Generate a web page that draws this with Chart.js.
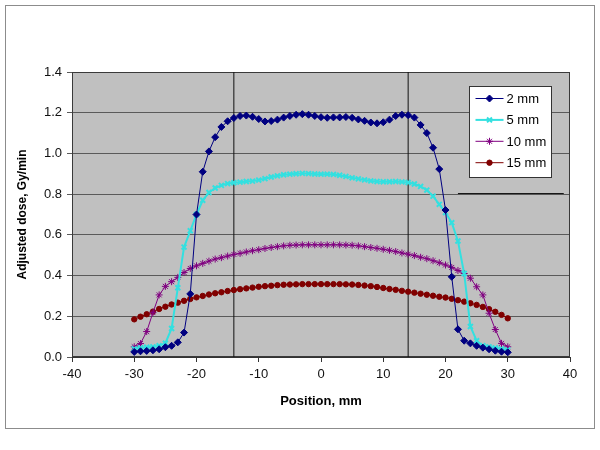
<!DOCTYPE html>
<html>
<head>
<meta charset="utf-8">
<title>Adjusted dose profiles</title>
<script src="https://cdn.jsdelivr.net/npm/chart.js@4.4.1/dist/chart.umd.min.js"></script>
<style>
  html, body { margin: 0; padding: 0; background: #fff; }
  #frame { position: absolute; left: 5px; top: 5px; width: 588px; height: 422px; border: 1px solid #8c8c8c; }
  canvas { display: block; }
</style>
</head>
<body>
<div id="frame"><canvas id="doseChart" width="588" height="422"></canvas></div>
<script>
// --- Datos ---
const positions = [-30, -29, -28, -27, -26, -25, -24, -23, -22, -21, -20, -19, -18, -17, -16, -15, -14, -13, -12, -11,
  -10, -9, -8, -7, -6, -5, -4, -3, -2, -1, 0, 1, 2, 3, 4, 5, 6, 7, 8, 9,
  10, 11, 12, 13, 14, 15, 16, 17, 18, 19, 20, 21, 22, 23, 24, 25, 26, 27, 28, 29, 30];

const dose2mm = [0.025, 0.028, 0.030, 0.033, 0.038, 0.048, 0.055, 0.072, 0.120, 0.310,
  0.700, 0.910, 1.010, 1.080, 1.130, 1.158, 1.174, 1.184, 1.186, 1.180,
  1.169, 1.157, 1.159, 1.166, 1.176, 1.184, 1.190, 1.193, 1.190, 1.184,
  1.178, 1.175, 1.177, 1.177, 1.179, 1.175, 1.167, 1.160, 1.152, 1.148,
  1.153, 1.166, 1.184, 1.190, 1.188, 1.176, 1.140, 1.100, 1.028, 0.923,
  0.722, 0.394, 0.136, 0.080, 0.067, 0.055, 0.046, 0.038, 0.031, 0.026, 0.023];

const dose5mm = [0.040, 0.045, 0.048, 0.050, 0.055, 0.068, 0.140, 0.340, 0.540, 0.620,
  0.700, 0.770, 0.808, 0.830, 0.843, 0.852, 0.856, 0.859, 0.862, 0.864,
  0.869, 0.876, 0.884, 0.890, 0.895, 0.898, 0.900, 0.902, 0.901, 0.899,
  0.898, 0.898, 0.897, 0.893, 0.887, 0.880, 0.875, 0.870, 0.865, 0.862,
  0.861, 0.861, 0.862, 0.860, 0.857, 0.850, 0.838, 0.820, 0.790, 0.750,
  0.710, 0.660, 0.570, 0.410, 0.150, 0.080, 0.055, 0.050, 0.045, 0.040, 0.035];

const dose10mm = [0.050, 0.066, 0.125, 0.218, 0.305, 0.347, 0.370, 0.391, 0.415, 0.435,
  0.448, 0.460, 0.471, 0.481, 0.488, 0.496, 0.504, 0.509, 0.516, 0.522,
  0.527, 0.533, 0.538, 0.542, 0.546, 0.549, 0.550, 0.551, 0.551, 0.551,
  0.551, 0.551, 0.551, 0.551, 0.550, 0.549, 0.546, 0.542, 0.538, 0.534,
  0.529, 0.524, 0.518, 0.511, 0.505, 0.498, 0.490, 0.483, 0.473, 0.463,
  0.452, 0.440, 0.425, 0.410, 0.387, 0.345, 0.305, 0.215, 0.135, 0.067, 0.050];

const dose15mm = [0.185, 0.198, 0.210, 0.223, 0.236, 0.247, 0.258, 0.267, 0.276, 0.285,
  0.293, 0.300, 0.307, 0.313, 0.318, 0.324, 0.329, 0.333, 0.337, 0.341,
  0.345, 0.348, 0.350, 0.353, 0.355, 0.356, 0.357, 0.358, 0.358, 0.358,
  0.358, 0.358, 0.358, 0.358, 0.357, 0.356, 0.354, 0.351, 0.348, 0.344,
  0.339, 0.334, 0.330, 0.325, 0.321, 0.316, 0.311, 0.306, 0.301, 0.296,
  0.292, 0.286, 0.279, 0.272, 0.264, 0.256, 0.246, 0.235, 0.222, 0.207, 0.190];

const seriesLabels = ['2 mm', '5 mm', '10 mm', '15 mm'];
const edgeLines = [-14, 14];          // lineas verticales negras
const strayMarkX = [22, 39];          // trazo negro suelto cerca de 0.8
const strayMarkY = [0.803, 0.803];

const toPoints = (ys) => positions.map((x, i) => ({ x: x, y: ys[i] }));

// --- Plugins ---
const plotFrame = {
  id: 'plotFrame',
  beforeDraw(chart) {
    const { ctx, chartArea: a } = chart;
    ctx.save();
    ctx.fillStyle = '#c0c0c0';
    ctx.fillRect(a.left, a.top, a.right - a.left, a.bottom - a.top);
    ctx.restore();
  },
  beforeDatasetsDraw(chart) {
    const { ctx, chartArea: a } = chart;
    ctx.save();
    ctx.strokeStyle = '#3a3a3a';
    ctx.lineWidth = 1;
    ctx.strokeRect(a.left + 0.5, a.top + 0.5, a.right - a.left - 1, a.bottom - a.top - 1);
    ctx.restore();
  }
};

const boxLegend = {
  id: 'boxLegend',
  afterDraw(chart) {
    const { ctx, chartArea: a } = chart;
    const x0 = Math.round(a.right - 101) + 0.5;
    const y0 = Math.round(a.top + 14) + 0.5;
    ctx.save();
    ctx.fillStyle = '#fff';
    ctx.fillRect(x0, y0, 82, 91);
    ctx.strokeStyle = '#333';
    ctx.lineWidth = 1;
    ctx.strokeRect(x0, y0, 82, 91);
    seriesLabels.forEach((label, i) => {
      const ds = chart.data.datasets[i];
      const y = y0 + 12 + i * 21.4;
      ctx.strokeStyle = ds.borderColor;
      ctx.lineWidth = ds.borderWidth;
      ctx.beginPath();
      ctx.moveTo(x0 + 6, y);
      ctx.lineTo(x0 + 34, y);
      ctx.stroke();
      ctx.fillStyle = ds.pointBackgroundColor;
      ctx.strokeStyle = ds.pointBorderColor;
      ctx.lineWidth = ds.pointBorderWidth || 1;
      Chart.helpers.drawPoint(ctx, {
        pointStyle: ds.pointStyle,
        radius: ds.pointRadius,
        rotation: 0,
        borderWidth: ds.pointBorderWidth || 1
      }, x0 + 20, y);
      ctx.fillStyle = '#000';
      ctx.font = '13px "Liberation Sans", Arial, sans-serif';
      ctx.textAlign = 'left';
      ctx.textBaseline = 'middle';
      ctx.fillText(label, x0 + 37, y + 1);
    });
    ctx.restore();
  }
};

Chart.defaults.font.family = '"Liberation Sans", Arial, sans-serif';
Chart.defaults.color = '#111';

function serie(label, ys, color, style, radius, extra) {
  return Object.assign({
    label: label,
    data: toPoints(ys),
    borderColor: color,
    backgroundColor: color,
    pointBackgroundColor: color,
    pointBorderColor: color,
    borderWidth: 1,
    pointStyle: style,
    pointRadius: radius,
    pointBorderWidth: 1,
    tension: 0
  }, extra || {});
}

const datasets = [
  serie(seriesLabels[0], dose2mm, '#000080', 'rectRot', 3.5),
  serie(seriesLabels[1], dose5mm, '#33e0e0', 'crossRot', 3.5, { borderWidth: 2, pointBorderWidth: 2 }),
  serie(seriesLabels[2], dose10mm, '#800080', 'star', 3.5),
  serie(seriesLabels[3], dose15mm, '#800000', 'circle', 2.7)
];

edgeLines.forEach(x => {
  datasets.push({
    label: 'edge',
    data: [{ x: x, y: 0 }, { x: x, y: 1.4 }],
    borderColor: '#111',
    borderWidth: 1,
    pointRadius: 0
  });
});

datasets.push({
  label: 'stray',
  data: strayMarkX.map((x, i) => ({ x: x, y: strayMarkY[i] })),
  borderColor: '#111',
  borderWidth: 1,
  pointRadius: 0
});

new Chart(document.getElementById('doseChart'), {
  type: 'line',
  data: { datasets: datasets },
  options: {
    responsive: false,
    animation: false,
    layout: { padding: { top: 66, right: 24, left: 0, bottom: 0 } },
    plugins: { legend: { display: false }, tooltip: { enabled: false } },
    scales: {
      x: {
        type: 'linear',
        min: -40,
        max: 40,
        afterFit: (scale) => { scale.height = 71; },
        ticks: { stepSize: 10, padding: 5, font: { size: 13 }, color: '#111' },
        grid: { drawOnChartArea: false, drawTicks: true, tickLength: 5, color: '#333' },
        border: { color: '#333' },
        title: { display: true, text: 'Position, mm', font: { size: 13, weight: 'bold' }, color: '#000', padding: { top: 0, bottom: 19 } }
      },
      y: {
        min: 0,
        max: 1.4,
        afterFit: (scale) => { scale.width = 66; },
        ticks: { stepSize: 0.2, padding: 5, font: { size: 13 }, color: '#111', callback: (v) => v.toFixed(1) },
        grid: { color: '#5a5a5a', drawTicks: true, tickLength: 5 },
        border: { color: '#333' },
        title: { display: true, text: 'Adjusted dose, Gy/min', font: { size: 12, weight: 'bold' }, color: '#000', padding: { top: 9, bottom: 0 } }
      }
    }
  },
  plugins: [plotFrame, boxLegend]
});
</script>
</body>
</html>
